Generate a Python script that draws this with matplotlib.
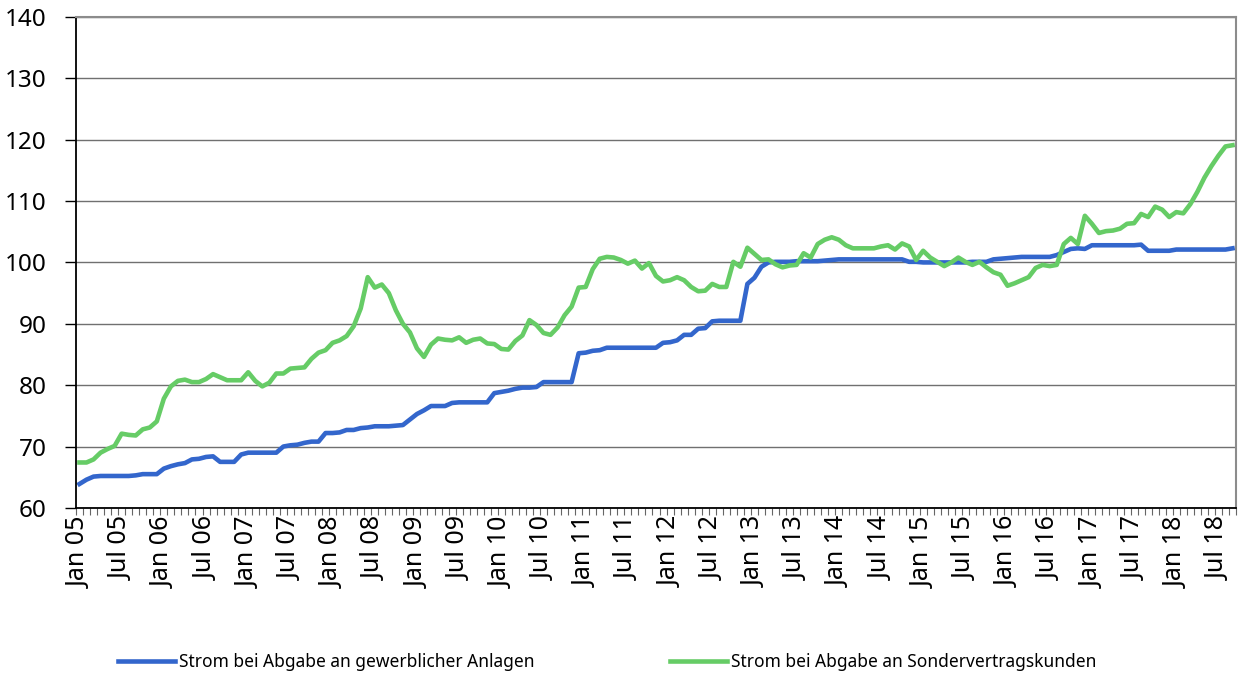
import numpy as np
import pandas as pd
import matplotlib
matplotlib.use("Agg")
import matplotlib.pyplot as plt
from matplotlib.ticker import MultipleLocator, FixedLocator

# monthly index, Jan 05 .. Sep 18
months = pd.date_range("2005-01-01", "2018-09-01", freq="MS")

gewerblich = [
    63.9, 64.6, 65.1, 65.2, 65.2, 65.2, 65.2, 65.2, 65.3, 65.5, 65.5, 65.5,
    66.4, 66.8, 67.1, 67.3, 67.9, 68.0, 68.3, 68.4, 67.5, 67.5, 67.5, 68.7,
    69.0, 69.0, 69.0, 69.0, 69.0, 70.0, 70.2, 70.3, 70.6, 70.8, 70.8, 72.2,
    72.2, 72.3, 72.7, 72.7, 73.0, 73.1, 73.3, 73.3, 73.3, 73.4, 73.5, 74.4,
    75.3, 75.9, 76.6, 76.6, 76.6, 77.1, 77.2, 77.2, 77.2, 77.2, 77.2, 78.7,
    78.9, 79.1, 79.4, 79.6, 79.6, 79.7, 80.5, 80.5, 80.5, 80.5, 80.5, 85.2,
    85.3, 85.6, 85.7, 86.1, 86.1, 86.1, 86.1, 86.1, 86.1, 86.1, 86.1, 86.9,
    87.0, 87.3, 88.2, 88.2, 89.2, 89.3, 90.4, 90.5, 90.5, 90.5, 90.5, 96.5,
    97.5, 99.3, 100.0, 100.1, 100.1, 100.1, 100.2, 100.2, 100.2, 100.2, 100.3, 100.4,
    100.5, 100.5, 100.5, 100.5, 100.5, 100.5, 100.5, 100.5, 100.5, 100.5, 100.1, 100.1,
    100.0, 100.0, 100.0, 100.0, 100.0, 100.0, 100.0, 100.1, 100.1, 100.1, 100.5, 100.6,
    100.7, 100.8, 100.9, 100.9, 100.9, 100.9, 100.9, 101.2, 101.7, 102.2, 102.3, 102.2,
    102.8, 102.8, 102.8, 102.8, 102.8, 102.8, 102.8, 102.9, 101.9, 101.9, 101.9, 101.9,
    102.1, 102.1, 102.1, 102.1, 102.1, 102.1, 102.1, 102.1, 102.3,
]

sondervertrag = [
    67.4, 67.4, 67.9, 69.0, 69.6, 70.1, 72.1, 71.9, 71.8, 72.8, 73.1, 74.1,
    77.8, 79.8, 80.7, 80.9, 80.5, 80.5, 81.0, 81.8, 81.3, 80.8, 80.8, 80.8,
    82.1, 80.7, 79.8, 80.4, 81.9, 81.9, 82.7, 82.8, 82.9, 84.3, 85.3, 85.7,
    86.9, 87.3, 88.0, 89.6, 92.5, 97.6, 95.9, 96.4, 95.0, 92.2, 90.0, 88.6,
    86.0, 84.6, 86.6, 87.6, 87.4, 87.3, 87.8, 86.9, 87.4, 87.6, 86.8, 86.7,
    85.9, 85.8, 87.2, 88.1, 90.6, 89.8, 88.5, 88.2, 89.4, 91.4, 92.8, 95.9,
    96.0, 98.9, 100.6, 100.9, 100.8, 100.4, 99.8, 100.3, 99.0, 99.9, 97.8, 96.9,
    97.1, 97.6, 97.1, 96.0, 95.3, 95.4, 96.5, 96.0, 96.0, 100.1, 99.3, 102.4,
    101.4, 100.4, 100.5, 99.7, 99.2, 99.5, 99.6, 101.5, 100.8, 103.0, 103.7, 104.1,
    103.7, 102.8, 102.3, 102.3, 102.3, 102.3, 102.6, 102.8, 102.1, 103.1, 102.6, 100.4,
    101.9, 100.8, 100.1, 99.4, 100.0, 100.8, 100.1, 99.6, 100.1, 99.2, 98.4, 98.0,
    96.2, 96.6, 97.1, 97.6, 99.1, 99.6, 99.4, 99.6, 103.0, 104.0, 103.0, 107.6,
    106.3, 104.8, 105.1, 105.2, 105.5, 106.3, 106.4, 107.9, 107.4, 109.1, 108.6, 107.4,
    108.2, 108.0, 109.5, 111.5, 113.8, 115.7, 117.4, 118.9, 119.1,
]

labels = ["Strom bei Abgabe an gewerblicher Anlagen",
          "Strom bei Abgabe an Sondervertragskunden"]
colors = ["#3366CC", "#66CC66"]

plt.rcParams['font.family'] = ['Noto Sans', 'DejaVu Sans']

fig = plt.figure(figsize=(12.39, 6.79), dpi=100)
ax = fig.add_axes([0.0613, 0.252, 0.9363, 0.723])

x = np.arange(len(months))
ax.plot(x, gewerblich, color=colors[0], lw=3.3, label=labels[0], solid_joinstyle='round')
ax.plot(x, sondervertrag, color=colors[1], lw=3.3, label=labels[1], solid_joinstyle='round')

ax.set_xlim(-0.5, len(months) - 0.5)
ax.set_ylim(60, 140)
ax.yaxis.set_major_locator(MultipleLocator(10))
ax.grid(axis='y', color='#707070', lw=1.0)
ax.set_axisbelow(True)

# month ticks, labels every half year
tick_pos = [i for i, d in enumerate(months) if d.month in (1, 7)]
tick_lab = [months[i].strftime("%b %y") for i in tick_pos]
ax.xaxis.set_major_locator(FixedLocator(tick_pos))
ax.set_xticklabels(tick_lab, rotation=90, fontsize=18)
ax.xaxis.set_minor_locator(FixedLocator(np.arange(len(months) + 1) - 0.5))
ax.tick_params(axis='x', which='major', length=0, pad=6)
ax.tick_params(axis='x', which='minor', length=5, color='#666666', width=0.8)
ax.tick_params(axis='y', length=8, width=1, labelsize=17.5, pad=13)

ax.spines['left'].set_color('black')
ax.spines['bottom'].set_color('black')
ax.spines['left'].set_linewidth(1.3)
ax.spines['bottom'].set_linewidth(1.3)
ax.spines['top'].set_color('#8c8c8c')
ax.spines['right'].set_color('#8c8c8c')
ax.spines['top'].set_linewidth(1.5)
ax.spines['right'].set_linewidth(1.5)

fig.legend(loc='center', bbox_to_anchor=(0.49, 0.025), ncol=2, frameon=False,
           fontsize=12.5, handlelength=3.3, handletextpad=0.2, columnspacing=7.8)

fig.savefig("out.png", dpi=100)
